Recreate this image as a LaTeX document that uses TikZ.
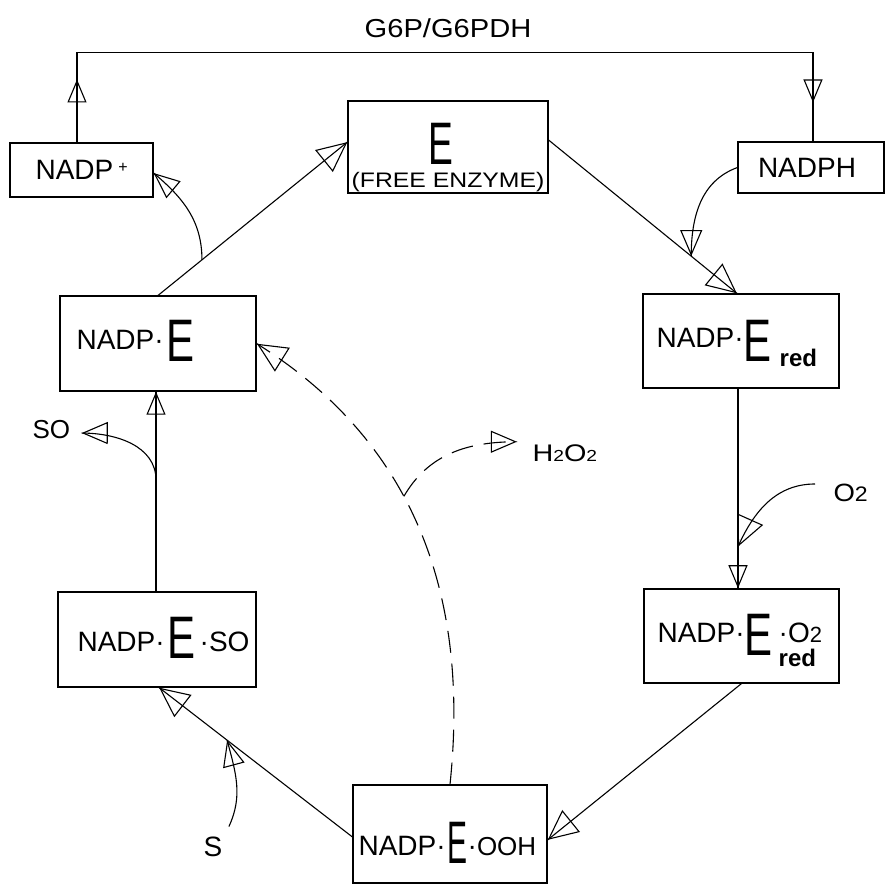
\documentclass[tikz,border=0pt]{standalone}
\usepackage{fontspec}
\setmainfont{Liberation Sans}
\usetikzlibrary{arrows.meta,decorations.markings}
\newcommand{\fsz}[1]{\fontsize{#1}{#1}\selectfont}
\newcommand{\BigE}[2][0.7]{\raisebox{#2}{\fsz{60}\scalebox{#1}[1]{E}}}
\newcommand{\redt}{{\fsz{24}\bfseries red}}
\newcommand{\subtwo}[1]{{\fsz{#1}2}}
\begin{document}
\begin{tikzpicture}[x=1pt,y=1pt,line width=1.1pt,
  box/.style={draw,rectangle,inner sep=0pt},
  txt/.style={inner sep=0pt,anchor=base west,font={\fsz{28}}},
  bigtri/.tip={Triangle[open,length=30pt,width=28pt]},
  medtri/.tip={Triangle[open,length=26pt,width=22pt]},
  smalltri/.tip={Triangle[open,length=23pt,width=19pt]},
  endarr/.style={postaction={decorate,decoration={markings,mark=at position 0.999 with {\arrow{#1}}}}},
  dsh/.style={dash pattern=on 22pt off 11pt}]
\useasboundingbox (0,0) rectangle (886,884);

% boxes
\node[box,minimum width=143pt,minimum height=54pt] (NADPp) at (81.5,714) {};
\node[txt] (NADPpT) at (35,704) {NADP\hspace{5pt}\raisebox{7pt}{\fsz{16}+}};
\node[box,minimum width=200pt,minimum height=92pt] (E) at (448,737) {};
\node[inner sep=0pt,anchor=base] (Ebig) at (441,719) {\BigE[0.62]{0pt}};
\node[inner sep=0pt,anchor=base,font={\fsz{21}}] (Efree) at (448,696) {\scalebox{1.18}[1]{(FREE ENZYME)}};
\node[box,minimum width=146pt,minimum height=51pt] (NADPH) at (811,716.5) {};
\node[inner sep=0pt,anchor=base,font={\fsz{28}}] (NADPHt) at (807,706) {NADPH};

\node[box,minimum width=196pt,minimum height=95pt] (NE) at (158,540.5) {};
\node[txt] (NEt) at (76,534) {NADP·\hspace{3pt}\BigE{-12pt}};
\node[box,minimum width=196pt,minimum height=94pt] (Ered) at (741,543) {};
\node[txt] (Eredt) at (656,536) {NADP·\BigE{-14pt}\hspace{8pt}\raisebox{-19pt}{\redt}};
\node[box,minimum width=198pt,minimum height=95pt] (ESO) at (157,244.5) {};
\node[txt] (ESOt) at (77,232) {NADP·\hspace{3pt}\BigE{-6pt}\hspace{4pt}·SO};
\node[box,minimum width=195pt,minimum height=94pt] (EO2) at (741.5,248) {};
\node[txt] (EO2t) at (657,241) {NADP·\BigE{-12pt}\hspace{6pt}\rlap{\raisebox{-24pt}{\redt}}·O\subtwo{22}};
\node[box,minimum width=194pt,minimum height=98pt] (OOH) at (450,50) {};
\node[txt] (OOHt) at (358,29) {NADP·\hspace{2pt}\BigE[0.5]{-8pt}·{\fsz{26}OOH}};

% labels
\node[inner sep=0pt,font={\fsz{26}}] (G6P) at (448,856) {\scalebox{1.12}[1]{G6P/G6PDH}};
\node[txt,font={\fsz{26}}] (SOl) at (32,445) {SO};
\node[inner sep=0pt,font={\fsz{28}}] (Sl) at (213,37) {S};
\node[txt,font={\fsz{24}}] (H2O2) at (532,422) {\scalebox{1.2}[1]{H\subtwo{16}O\subtwo{16}}};
\node[txt,font={\fsz{25}}] (O2l) at (833,382) {\scalebox{1.1}[1]{O\subtwo{21}}};

% top loop
\draw[postaction={decorate,decoration={markings,
    mark=at position 63pt with {\arrow{smalltri}},
    mark=at position -39pt with {\arrow{smalltri}}}}]
  ([xshift=-4.5pt]NADPp.north) -- ++(0,90) -| ([xshift=2pt]NADPH.north);

% main cycle
\draw[endarr=bigtri] (NE.north) -- ([yshift=5pt]E.west) coordinate[pos=0.232] (c1);
\draw[endarr=medtri] (c1) to[out=90,in=-40] ([yshift=-3pt]NADPp.east);
\draw[endarr=bigtri] ([yshift=7pt]E.east) -- ([xshift=-4pt]Ered.north) coordinate[pos=0.757] (c2);
\draw[endarr=medtri] (NADPH.west) to[out=200,in=90] (c2);
\draw[endarr=smalltri] ([xshift=-3pt]Ered.south) -- ([xshift=-3.5pt]EO2.north) coordinate[pos=0.791] (c3);
\draw[endarr=bigtri] ([xshift=-18pt]O2l.north west) to[out=180,in=66] (c3);
\draw[endarr=bigtri] (EO2.south) -- ([yshift=-6pt]OOH.east);
\draw[endarr=bigtri] ([yshift=-3pt]OOH.west) -- ([xshift=2pt]ESO.south) coordinate[pos=0.648] (c4);
\draw[endarr=medtri] ([shift={(6pt,10pt)}]Sl.north east) to[out=65,in=-75] (c4);
\draw[endarr=smalltri] ([xshift=-1pt]ESO.north) -- ([xshift=-2pt]NE.south) coordinate[pos=0.557] (c5);
\draw[endarr=medtri] (c5) to[out=90,in=0] ([xshift=11pt,yshift=-3pt]SOl.east);

% dashed
\draw[dsh,endarr=bigtri] (OOH.north) to[out=84,in=-32] coordinate[pos=0.58] (c6) (NE.east);
\draw[dsh,endarr=medtri] (c6) to[out=60,in=180] ([shift={(-15pt,12pt)}]H2O2.west);
\end{tikzpicture}
\end{document}
